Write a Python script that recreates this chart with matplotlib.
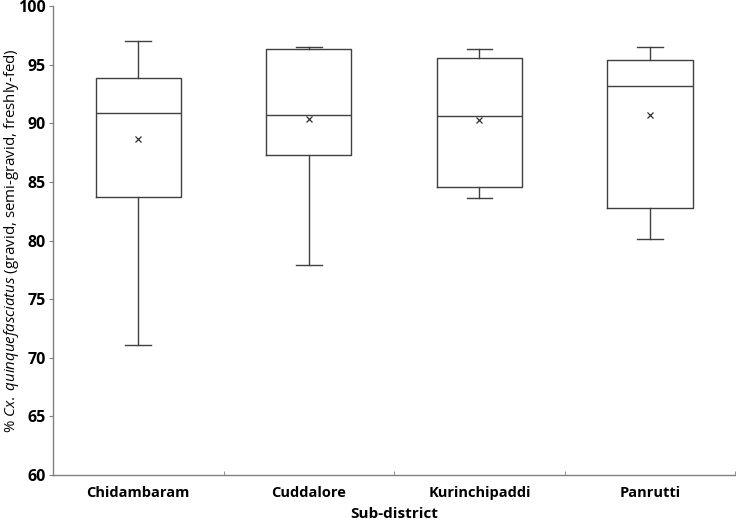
import matplotlib
matplotlib.use("Agg")
import matplotlib.pyplot as plt

categories = ["Chidambaram", "Cuddalore", "Kurinchipaddi", "Panrutti"]
whislo = [71.1, 77.9, 83.6, 80.1]
q1 = [83.7, 87.3, 84.6, 82.8]
med = [90.9, 90.7, 90.6, 93.2]
q3 = [93.9, 96.3, 95.6, 95.4]
whishi = [97.0, 96.5, 96.3, 96.5]
means = [88.7, 90.4, 90.3, 90.7]

plt.rcParams['font.family'] = ['Open Sans', 'DejaVu Sans']
plt.rcParams['mathtext.fontset'] = 'custom'
plt.rcParams['mathtext.rm'] = 'Open Sans'
plt.rcParams['mathtext.it'] = 'Open Sans:italic'

fig = plt.figure(figsize=(7.36, 5.22), dpi=100)
ax = fig.add_axes([0.072, 0.09, 0.927, 0.8985])

stats = []
for i, c in enumerate(categories):
    stats.append(dict(label=c, whislo=whislo[i], q1=q1[i], med=med[i], q3=q3[i],
                      whishi=whishi[i], mean=means[i], fliers=[]))

lc = '#404040'
ax.bxp(stats, positions=range(1, len(categories) + 1), widths=0.5, showmeans=True,
       showfliers=False,
       boxprops=dict(color=lc, linewidth=1.0),
       medianprops=dict(color=lc, linewidth=1.0),
       whiskerprops=dict(color=lc, linewidth=1.0),
       capprops=dict(color=lc, linewidth=1.0),
       capwidths=0.15,
       meanprops=dict(marker='x', markeredgecolor='#303030', markersize=4, markeredgewidth=0.9))

ax.set_xlim(0.5, len(categories) + 0.5)
ax.set_ylim(60, 100)
ax.set_yticks(range(60, 101, 5))
ax.set_xticks(range(1, len(categories) + 1))
ax.set_xticklabels(categories, fontweight='bold', fontsize=10.5)
ax.set_xticks([x + 0.5 for x in range(0, len(categories) + 1)], minor=True)
ax.tick_params(axis='x', which='major', length=0, pad=8)
ax.tick_params(axis='x', which='minor', length=3, direction='in', color='#808080')
ax.tick_params(axis='y', which='major', length=3, color='#808080', labelsize=11.5, pad=2)
for lab in ax.get_yticklabels():
    lab.set_fontweight('bold')

for s in ['top', 'right']:
    ax.spines[s].set_visible(False)
for s in ['left', 'bottom']:
    ax.spines[s].set_color('#808080')
    ax.spines[s].set_linewidth(1.0)

ax.set_ylabel(r'% $\mathit{Cx.}$ $\mathit{quinquefasciatus}$ (gravid, semi-gravid, freshly-fed)', fontsize=10.8)
ax.yaxis.set_label_coords(-0.047, 0.5)
ax.set_xlabel('Sub-district', fontsize=11, fontweight='bold', labelpad=5)

fig.savefig('out.png', dpi=100)
